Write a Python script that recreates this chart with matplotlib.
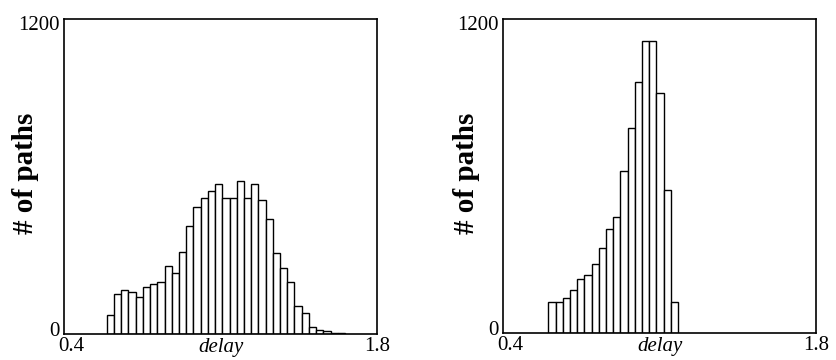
import matplotlib
matplotlib.use("Agg")
from matplotlib import pyplot as plt
from matplotlib.transforms import ScaledTranslation

plt.rcParams['font.family'] = ['Liberation Serif', 'DejaVu Serif']

# 左图：延迟分布（较宽）
left_start = 0.591
left_width = 0.0323
left_counts = [71, 152, 168, 160, 141, 179, 189, 197, 258, 232, 311, 410, 483, 518,
               545, 570, 518, 518, 582, 518, 571, 510, 437, 310, 251, 197, 108, 80,
               27, 17, 10, 4, 2]

# 右图：延迟分布（集中）
right_start = 0.603
right_width = 0.0322
right_counts = [117, 117, 132, 163, 208, 221, 264, 323, 397, 444, 620, 782, 959,
                1117, 1117, 917, 546, 117]

x_ticks = [0.4, 1.8]
y_ticks = [0, 1200]

fig = plt.figure(figsize=(8.36, 3.6), dpi=100)
ax1 = fig.add_axes([0.0766, 0.0722, 0.3744, 0.875])
ax2 = fig.add_axes([0.6017, 0.0750, 0.3744, 0.8722])


def shift(lab, dx, dy):
    # 按像素平移刻度文字
    lab.set_transform(lab.get_transform() + ScaledTranslation(dx / 100, dy / 100, fig.dpi_scale_trans))


for ax, start, width, counts, lx in [(ax1, left_start, left_width, left_counts, -0.08),
                                       (ax2, right_start, right_width, right_counts, -0.073)]:
    lefts = [start + i * width for i in range(len(counts))]
    ax.bar(lefts, counts, width=width, align="edge", color="white",
           edgecolor="black", linewidth=1.0)
    ax.set_xlim(0.4, 1.8)
    ax.set_ylim(0, 1200)
    ax.set_xticks(x_ticks)
    ax.set_xticklabels(["0.4", "1.8"])
    ax.set_yticks(y_ticks)
    ax.set_yticklabels(["0", "1200"])
    ax.tick_params(length=0, labelsize=15, pad=2)
    ax.tick_params(axis="y", pad=3)
    ylabs = ax.get_yticklabels()
    shift(ylabs[0], 0, 5)
    shift(ylabs[1], 0, -4)
    shift(ax.get_xticklabels()[0], 7, 0)
    for sp in ax.spines.values():
        sp.set_linewidth(1.2)
        sp.set_color("black")
    ax.text(0.5, -0.012, "delay", transform=ax.transAxes, ha="center", va="top",
            fontsize=15, style="italic")
    ax.set_ylabel("# of paths", fontsize=21, fontweight="bold")
    ax.yaxis.set_label_coords(lx, 0.51)

fig.savefig("out.png", dpi=100)
